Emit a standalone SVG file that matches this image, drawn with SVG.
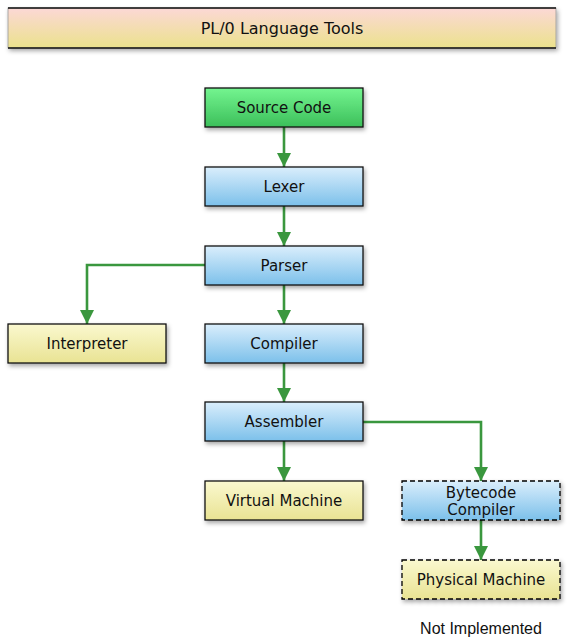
<svg xmlns="http://www.w3.org/2000/svg" width="575" height="638" viewBox="0 0 575 638">
<defs>
<linearGradient id="gTitle" x1="0" y1="0" x2="0" y2="1"><stop offset="0" stop-color="#fcd8d6"/><stop offset="1" stop-color="#ebe28c"/></linearGradient>
<linearGradient id="gGreen" x1="0" y1="0" x2="0" y2="1"><stop offset="0" stop-color="#74f590"/><stop offset="1" stop-color="#3cbf5a"/></linearGradient>
<linearGradient id="gBlue" x1="0" y1="0" x2="0" y2="1"><stop offset="0" stop-color="#daeefc"/><stop offset="1" stop-color="#7cc0ea"/></linearGradient>
<linearGradient id="gYellow" x1="0" y1="0" x2="0" y2="1"><stop offset="0" stop-color="#faf8cf"/><stop offset="1" stop-color="#e9e393"/></linearGradient>
<filter id="sh" x="-10%" y="-20%" width="125%" height="160%"><feDropShadow dx="1.5" dy="2.5" stdDeviation="2" flood-color="#000" flood-opacity="0.35"/></filter>
<marker id="arr" viewBox="0 0 10 10" refX="10" refY="5" markerWidth="5.5" markerHeight="5.5" orient="auto" markerUnits="strokeWidth"><path d="M0,0 L10,5 L0,10 z" fill="#3a973e"/></marker>
</defs>
<style>
.box{stroke:#111;stroke-width:1.3;filter:url(#sh)}
.dash{stroke-dasharray:5,3;stroke:#000}
.lbl{font-family:"DejaVu Sans",sans-serif;font-size:15px;fill:#111;text-anchor:middle}
.con{fill:none;stroke:#3a973e;stroke-width:2.6;marker-end:url(#arr)}
</style>
<rect width="575" height="638" fill="#fff"/>
<g id="title"><rect x="8" y="8" width="548" height="40" fill="url(#gTitle)" stroke="#999" stroke-width="0.8" filter="url(#sh)"/><path d="M8,8 H556 M8,48 H556" stroke="#111" stroke-width="1.3"/><text class="lbl" x="282" y="34" style="font-size:16px">PL/0 Language Tools</text></g>
<g id="connectors">
<path class="con" d="M284,127 V167"/>
<path class="con" d="M284,206 V246"/>
<path class="con" d="M205,265 H87 V324"/>
<path class="con" d="M284,285 V324"/>
<path class="con" d="M284,363 V402"/>
<path class="con" d="M284,441 V481"/>
<path class="con" d="M363,422 H481 V481"/>
<path class="con" d="M481,520 V560"/>
</g>
<g id="source"><rect class="box" x="205" y="88" width="158" height="39" fill="url(#gGreen)"/><text class="lbl" x="284" y="113">Source Code</text></g>
<g id="lexer"><rect class="box" x="205" y="167" width="158" height="39" fill="url(#gBlue)"/><text class="lbl" x="284" y="192">Lexer</text></g>
<g id="parser"><rect class="box" x="205" y="246" width="158" height="39" fill="url(#gBlue)"/><text class="lbl" x="284" y="271">Parser</text></g>
<g id="interpreter"><rect class="box" x="8" y="324" width="158" height="39" fill="url(#gYellow)"/><text class="lbl" x="87" y="349">Interpreter</text></g>
<g id="compiler"><rect class="box" x="205" y="324" width="158" height="39" fill="url(#gBlue)"/><text class="lbl" x="284" y="349">Compiler</text></g>
<g id="assembler"><rect class="box" x="205" y="402" width="158" height="39" fill="url(#gBlue)"/><text class="lbl" x="284" y="427">Assembler</text></g>
<g id="vm"><rect class="box" x="205" y="481" width="158" height="39" fill="url(#gYellow)"/><text class="lbl" x="284" y="506">Virtual Machine</text></g>
<g id="bytecode"><rect class="box dash" x="402" y="481" width="158" height="39" fill="url(#gBlue)"/><text class="lbl" x="481" y="498">Bytecode</text><text class="lbl" x="481" y="515">Compiler</text></g>
<g id="physical"><rect class="box dash" x="402" y="560" width="158" height="39" fill="url(#gYellow)"/><text class="lbl" x="481" y="585">Physical Machine</text></g>
<text x="481" y="634" font-family="Liberation Sans, sans-serif" font-size="16" fill="#111" text-anchor="middle">Not Implemented</text>
</svg>
